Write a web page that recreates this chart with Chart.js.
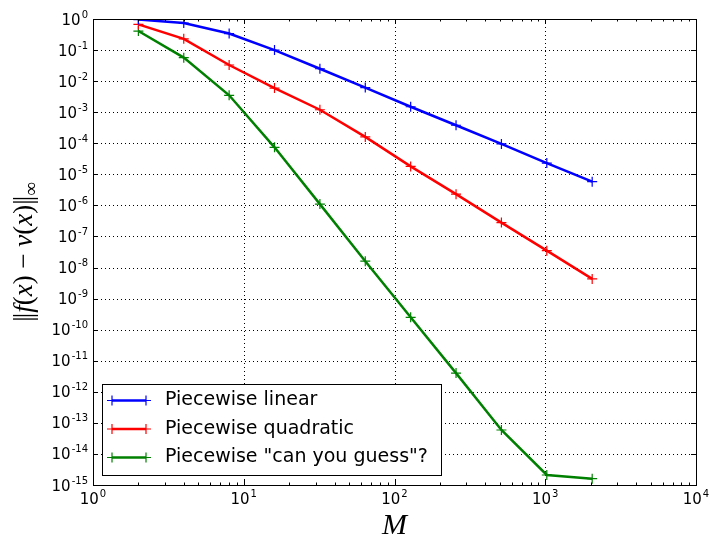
<!DOCTYPE html>
<html>
<head>
<meta charset="utf-8">
<script src="https://cdn.jsdelivr.net/npm/chart.js@4.4.1/dist/chart.umd.min.js"></script>
<style>
  html, body { margin: 0; padding: 0; background: #fff; }
</style>
</head>
<body>
<canvas id="chart" width="710" height="538"></canvas>
<script>
// data
var M_VALUES = [2, 4, 8, 16, 32, 64, 128, 256, 512, 1024, 2048]
var ERR_LINEAR = [0.96, 0.74, 0.34, 0.1, 0.025, 0.0062, 0.0015, 3.8e-4, 9.5e-5, 2.3e-5, 5.8e-6]
var ERR_QUADRATIC = [0.67, 0.23, 0.033, 0.006, 0.0012, 1.6e-4, 1.8e-5, 2.3e-6, 2.8e-7, 3.5e-8, 4.3e-9]
var ERR_GUESS = [0.41, 0.057, 0.0035, 7.4e-5, 1.1e-6, 1.6e-8, 2.5e-10, 4e-12, 5.9e-14, 2.1e-15, 1.6e-15]
var SERIES_NAMES = ['Piecewise linear', 'Piecewise quadratic', 'Piecewise "can you guess"?']
var SERIES_COLORS = ['#0000ff', '#ff0000', '#008000']
var X_TICK_EXP = [0, 1, 2, 3, 4]
var Y_TICK_EXP = [0, -1, -2, -3, -4, -5, -6, -7, -8, -9, -10, -11, -12, -13, -14, -15]

var SANS = '"DejaVu Sans", sans-serif'
var SERIF = '"Liberation Serif", "DejaVu Serif", serif'

function points (ys) {
  return M_VALUES.map(function (m, i) { return { x: m, y: ys[i] } })
}

// draw "10" with a raised exponent, align: 'right' or 'center'
function drawPow (ctx, exp, x, y, align) {
  ctx.font = '15px ' + SANS
  var wb = ctx.measureText('10').width
  ctx.font = '10px ' + SANS
  var ws = ctx.measureText(String(exp)).width
  var x0 = align === 'right' ? x - wb - ws - 1 : x - (wb + ws + 1) / 2
  ctx.fillStyle = '#000'
  ctx.textAlign = 'left'
  ctx.textBaseline = 'alphabetic'
  ctx.font = '15px ' + SANS
  ctx.fillText('10', x0, y)
  ctx.font = '10px ' + SANS
  ctx.fillText(String(exp), x0 + wb + 1, y - 7)
}

// runs of [text, style]: n = normal, i = italic, sub = subscript, bar = tight bar
function drawRuns (ctx, runs, size, cx, cy) {
  function fontFor (st) {
    if (st === 'i') return 'italic ' + size + 'px ' + SERIF
    if (st === 'sub') return Math.round(size * 0.7) + 'px ' + SERIF
    return size + 'px ' + SERIF
  }
  var total = 0
  var widths = runs.map(function (r) {
    ctx.font = fontFor(r[1])
    var w = r[1] === 'bar' ? size * 0.13 : ctx.measureText(r[0]).width
    total += w
    return w
  })
  var x = cx - total / 2
  ctx.textAlign = 'left'
  ctx.textBaseline = 'middle'
  ctx.fillStyle = '#000'
  runs.forEach(function (r, i) {
    ctx.font = fontFor(r[1])
    ctx.fillText(r[0], x, r[1] === 'sub' ? cy + size * 0.25 : cy)
    x += widths[i]
  })
}

var axesPlugin = {
  id: 'mplAxes',
  beforeDatasetsDraw: function (chart) {
    var ctx = chart.ctx, a = chart.chartArea
    var sx = chart.scales.x, sy = chart.scales.y
    ctx.save()
    ctx.strokeStyle = '#000'
    ctx.lineWidth = 1
    ctx.setLineDash([1, 3])
    X_TICK_EXP.forEach(function (e) {
      var px = Math.round(sx.getPixelForValue(Math.pow(10, e))) + 0.5
      ctx.beginPath(); ctx.moveTo(px, a.top); ctx.lineTo(px, a.bottom); ctx.stroke()
    })
    Y_TICK_EXP.forEach(function (e) {
      var py = Math.round(sy.getPixelForValue(Math.pow(10, e))) + 0.5
      ctx.beginPath(); ctx.moveTo(a.left, py); ctx.lineTo(a.right, py); ctx.stroke()
    })
    ctx.restore()
  },
  afterDatasetsDraw: function (chart) {
    var ctx = chart.ctx, a = chart.chartArea
    var sx = chart.scales.x, sy = chart.scales.y
    ctx.save()
    ctx.strokeStyle = '#000'
    ctx.lineWidth = 1
    // ticks, inward
    ctx.beginPath()
    X_TICK_EXP.forEach(function (e, k) {
      var px = Math.round(sx.getPixelForValue(Math.pow(10, e))) + 0.5
      ctx.moveTo(px, a.bottom); ctx.lineTo(px, a.bottom - 5)
      ctx.moveTo(px, a.top); ctx.lineTo(px, a.top + 5)
      if (k < X_TICK_EXP.length - 1) {
        for (var m = 2; m < 10; m++) {
          var qx = Math.round(sx.getPixelForValue(m * Math.pow(10, e))) + 0.5
          ctx.moveTo(qx, a.bottom); ctx.lineTo(qx, a.bottom - 2.5)
          ctx.moveTo(qx, a.top); ctx.lineTo(qx, a.top + 2.5)
        }
      }
    })
    Y_TICK_EXP.forEach(function (e) {
      var py = Math.round(sy.getPixelForValue(Math.pow(10, e))) + 0.5
      ctx.moveTo(a.left, py); ctx.lineTo(a.left + 5, py)
      ctx.moveTo(a.right, py); ctx.lineTo(a.right - 5, py)
    })
    ctx.stroke()
    // frame
    ctx.strokeRect(Math.round(a.left) + 0.5, Math.round(a.top) + 0.5,
      Math.round(a.right - a.left), Math.round(a.bottom - a.top))
    // tick labels
    X_TICK_EXP.forEach(function (e) {
      drawPow(ctx, e, sx.getPixelForValue(Math.pow(10, e)), a.bottom + 18.5, 'center')
    })
    Y_TICK_EXP.forEach(function (e) {
      drawPow(ctx, e, a.left - 5, sy.getPixelForValue(Math.pow(10, e)) + 5.5, 'right')
    })
    // axis titles
    ctx.fillStyle = '#000'
    ctx.font = 'italic 30px ' + SERIF
    ctx.textAlign = 'center'
    ctx.textBaseline = 'alphabetic'
    ctx.fillText('M', (a.left + a.right) / 2, 534)
    ctx.save()
    ctx.translate(25, (a.top + a.bottom) / 2)
    ctx.rotate(-Math.PI / 2)
    drawRuns(ctx, [['|', 'bar'], ['|', 'n'], ['f', 'i'], ['(', 'n'], ['x', 'i'], [')', 'n'], [' − ', 'n'],
      ['v', 'i'], ['(', 'n'], ['x', 'i'], [')', 'n'], ['|', 'bar'], ['|', 'n'], ['∞', 'sub']], 27, 0, 0)
    ctx.restore()
    ctx.restore()
  },
  afterDraw: function (chart) {
    // legend box inside the axes, lower left
    var ctx = chart.ctx
    var bx = 102.5, by = 384.5, bw = 339, bh = 91
    ctx.save()
    ctx.fillStyle = '#fff'
    ctx.fillRect(bx, by, bw, bh)
    ctx.strokeStyle = '#000'
    ctx.lineWidth = 1
    ctx.strokeRect(bx, by, bw, bh)
    chart.data.datasets.forEach(function (ds, i) {
      var ry = 400.5 + i * 28.5
      ctx.strokeStyle = ds.borderColor
      ctx.lineWidth = 2.5
      ctx.beginPath(); ctx.moveTo(112, ry); ctx.lineTo(146, ry); ctx.stroke()
      ctx.lineWidth = 1.2
      ctx.beginPath()
      ;[112, 146].forEach(function (mx) {
        ctx.moveTo(mx - 5, ry); ctx.lineTo(mx + 5, ry)
        ctx.moveTo(mx, ry - 5); ctx.lineTo(mx, ry + 5)
      })
      ctx.stroke()
      ctx.fillStyle = '#000'
      ctx.font = '19px ' + SANS
      ctx.textAlign = 'left'
      ctx.textBaseline = 'middle'
      ctx.fillText(ds.label, 165, ry)
    })
    ctx.restore()
  }
}

function makeSet (i, ys) {
  return {
    label: SERIES_NAMES[i],
    data: points(ys),
    borderColor: SERIES_COLORS[i],
    backgroundColor: SERIES_COLORS[i],
    borderWidth: 2.5,
    pointStyle: 'cross',
    pointRadius: 5,
    pointBorderWidth: 1.2,
    pointBorderColor: SERIES_COLORS[i],
    tension: 0,
    fill: false
  }
}

var chart = new Chart(document.getElementById('chart').getContext('2d'), {
  type: 'line',
  data: {
    datasets: [makeSet(0, ERR_LINEAR), makeSet(1, ERR_QUADRATIC), makeSet(2, ERR_GUESS)]
  },
  options: {
    responsive: false,
    animation: false,
    devicePixelRatio: 1,
    layout: { padding: { top: 19, right: 14, left: 0, bottom: 0 } },
    plugins: { legend: { display: false }, tooltip: { enabled: false } },
    scales: {
      x: {
        type: 'logarithmic', min: 1, max: 10000,
        ticks: { display: false }, grid: { display: false }, border: { display: false },
        afterFit: function (s) { s.height = 53 }
      },
      y: {
        type: 'logarithmic', min: 1e-15, max: 1,
        ticks: { display: false }, grid: { display: false }, border: { display: false },
        afterFit: function (s) { s.width = 93 }
      }
    }
  },
  plugins: [axesPlugin]
})
</script>
</body>
</html>
